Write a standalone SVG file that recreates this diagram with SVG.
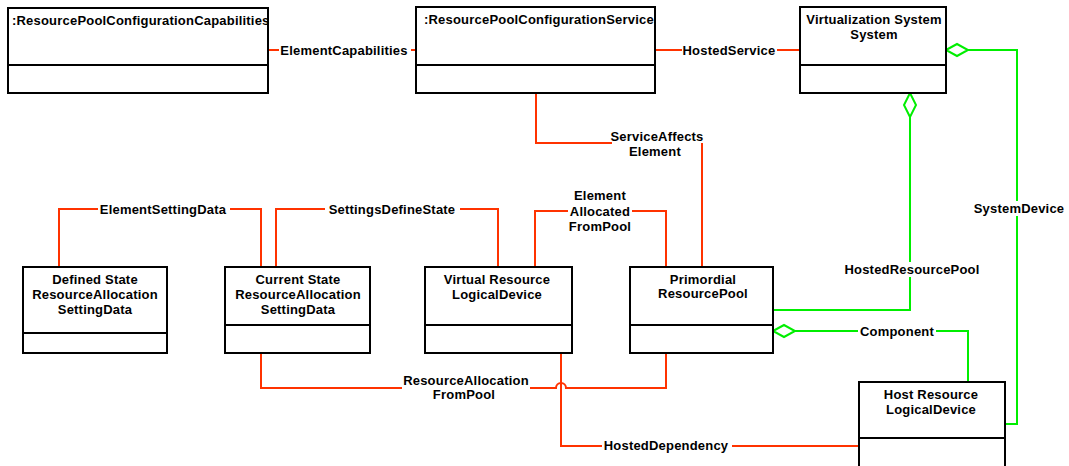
<svg xmlns="http://www.w3.org/2000/svg" width="1069" height="466" viewBox="0 0 1069 466">
  <style>
    .box { fill: #fff; stroke: #000; stroke-width: 2; }
    .div { stroke: #000; stroke-width: 2; }
    .t { font-family: "Liberation Sans", Arial, sans-serif; font-size: 13px; font-weight: bold; letter-spacing: 0.2px; fill: #000; }
    .c { text-anchor: middle; }
    .red { fill: none; stroke: #ff3300; stroke-width: 2; }
    .grn { fill: none; stroke: #00ee00; stroke-width: 2; }
    .dia { fill: #fff; stroke: #00ee00; stroke-width: 2; }
    .bg { fill: #fff; }
  </style>
  <rect width="1069" height="466" fill="#fff"/>

  <!-- connectors -->
  <g id="connectors">
    <path class="red" d="M268 50 H416"/>
    <path class="red" d="M655 50 H800"/>
    <path class="red" d="M536 93 V143 H612 M702 143 V267"/>
    <path class="red" d="M59 267 V209 H261 V267"/>
    <path class="red" d="M276 267 V209 H498 V267"/>
    <path class="red" d="M535 267 V211 H666 V267"/>
    <path class="red" d="M261 353 V388 H556 A5 5 0 0 1 566 388 H666 V353"/>
    <path class="red" d="M561 353 V446 H859"/>
    <path class="grn" d="M968 50 H1017 V424 H1005"/>
    <path class="grn" d="M910 117 V310 H773"/>
    <path class="grn" d="M795 331 H968 V382"/>
    <path class="dia" d="M946 50 L957 44 L968 50 L957 56 Z"/>
    <path class="dia" d="M910 93 L916 105 L910 117 L904 105 Z"/>
    <path class="dia" d="M773 331 L784 325 L795 331 L784 337 Z"/>

    <!-- association labels -->
    <rect class="bg" x="279" y="43" width="132" height="15"/>
    <text class="t c" x="344" y="55">ElementCapabilities</text>
    <rect class="bg" x="682" y="43" width="95" height="15"/>
    <text class="t c" x="729" y="55">HostedService</text>
    <text class="t c" x="657" y="141">ServiceAffects</text>
    <text class="t c" x="655" y="156">Element</text>
    <rect class="bg" x="974" y="201" width="90" height="15"/>
    <text class="t c" x="1019" y="213">SystemDevice</text>
    <rect class="bg" x="843" y="262" width="140" height="15"/>
    <text class="t c" x="912" y="274">HostedResourcePool</text>
    <rect class="bg" x="858" y="324" width="78" height="15"/>
    <text class="t c" x="897" y="336">Component</text>
    <rect class="bg" x="98" y="202" width="132" height="15"/>
    <text class="t c" x="163" y="214">ElementSettingData</text>
    <rect class="bg" x="325" y="202" width="135" height="15"/>
    <text class="t c" x="392" y="214">SettingsDefineState</text>
    <rect class="bg" x="568" y="187" width="64" height="45"/>
    <text class="t c" x="600" y="200">Element</text>
    <text class="t c" x="600" y="216">Allocated</text>
    <text class="t c" x="600" y="231">FromPool</text>
    <rect class="bg" x="402" y="373" width="128" height="28"/>
    <text class="t c" x="466" y="385">ResourceAllocation</text>
    <text class="t c" x="464" y="399">FromPool</text>
    <rect class="bg" x="602" y="439" width="130" height="15"/>
    <text class="t c" x="666" y="450">HostedDependency</text>
  </g>

  <g id="capabilities">
    <rect class="box" x="8" y="8" width="260" height="85"/>
    <line class="div" x1="8" y1="65" x2="268" y2="65"/>
    <text class="t" x="12" y="25">:ResourcePoolConfigurationCapabilities</text>
  </g>

  <g id="configService">
    <rect class="box" x="416" y="7" width="239" height="86"/>
    <line class="div" x1="416" y1="65" x2="655" y2="65"/>
    <text class="t" x="424" y="24">:ResourcePoolConfigurationService</text>
  </g>

  <g id="virtSystem">
    <rect class="box" x="800" y="7" width="146" height="86"/>
    <line class="div" x1="800" y1="65" x2="946" y2="65"/>
    <text class="t c" x="874" y="24">Virtualization System</text>
    <text class="t c" x="874" y="39">System</text>
  </g>

  <g id="definedState">
    <rect class="box" x="23" y="267" width="144" height="86"/>
    <line class="div" x1="23" y1="333" x2="167" y2="333"/>
    <text class="t c" x="95" y="284">Defined State</text>
    <text class="t c" x="95" y="299">ResourceAllocation</text>
    <text class="t c" x="95" y="314">SettingData</text>
  </g>

  <g id="currentState">
    <rect class="box" x="225" y="267" width="145" height="86"/>
    <line class="div" x1="225" y1="325" x2="370" y2="325"/>
    <text class="t c" x="298" y="284">Current State</text>
    <text class="t c" x="298" y="299">ResourceAllocation</text>
    <text class="t c" x="298" y="314">SettingData</text>
  </g>

  <g id="virtualResource">
    <rect class="box" x="425" y="267" width="147" height="86"/>
    <line class="div" x1="425" y1="325" x2="572" y2="325"/>
    <text class="t c" x="497" y="284">Virtual Resource</text>
    <text class="t c" x="497" y="299">LogicalDevice</text>
  </g>

  <g id="primordialPool">
    <rect class="box" x="630" y="267" width="143" height="86"/>
    <line class="div" x1="630" y1="325" x2="773" y2="325"/>
    <text class="t c" x="703" y="284">Primordial</text>
    <text class="t c" x="703" y="298">ResourcePool</text>
  </g>

  <g id="hostResource">
    <rect class="box" x="859" y="382" width="146" height="100"/>
    <line class="div" x1="859" y1="438" x2="1005" y2="438"/>
    <text class="t c" x="931" y="399">Host Resource</text>
    <text class="t c" x="931" y="414">LogicalDevice</text>
  </g>
</svg>
